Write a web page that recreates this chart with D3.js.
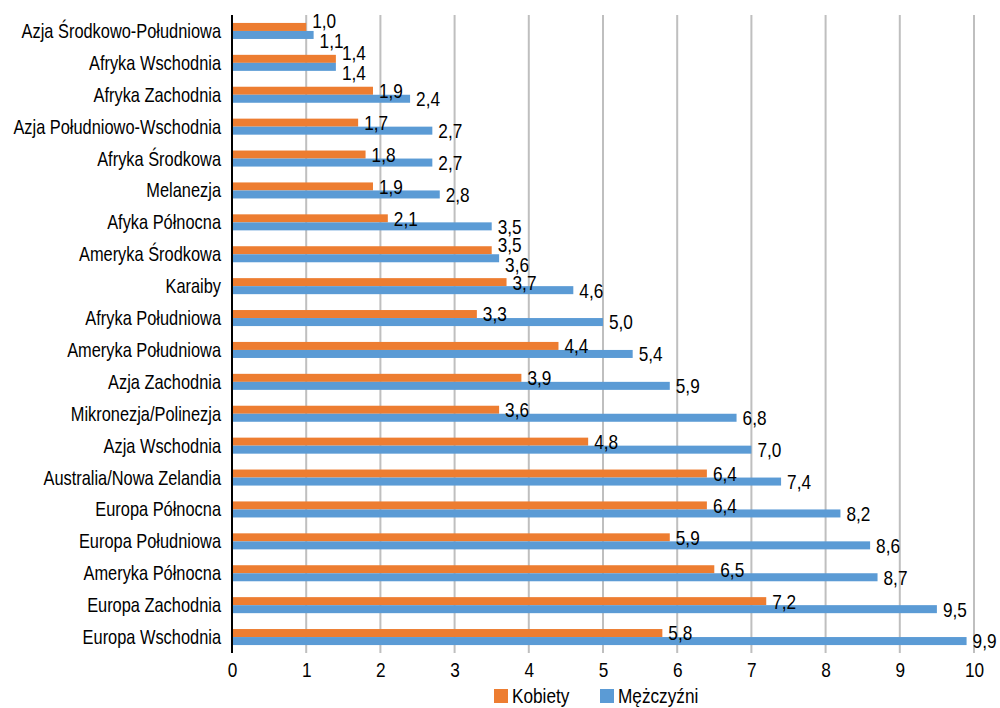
<!DOCTYPE html>
<html lang="pl">
  <head>
    <meta charset="UTF-8" />
    <title>Kobiety / Mężczyźni</title>
    <script src="https://d3js.org/d3.v7.min.js"></script>
    <style>
      body { margin: 0; background: #fff; }
      text { font-family: "Liberation Sans", Arial, sans-serif; fill: #000; }
      .grid line { stroke: #bfbfbf; stroke-width: 2px; }
    </style>
  </head>
  <body>
    <svg width="1000" height="708"></svg>
    <script>
      const width = 1000;
      const height = 708;
      const squeeze = 0.82; // wąski krój jak Arial Narrow

      // dane
      const regions = [
        "Azja Środkowo-Południowa", "Afryka Wschodnia", "Afryka Zachodnia",
        "Azja Południowo-Wschodnia", "Afryka Środkowa", "Melanezja",
        "Afyka Północna", "Ameryka Środkowa", "Karaiby", "Afryka Południowa",
        "Ameryka Południowa", "Azja Zachodnia", "Mikronezja/Polinezja",
        "Azja Wschodnia", "Australia/Nowa Zelandia", "Europa Północna",
        "Europa Południowa", "Ameryka Północna", "Europa Zachodnia",
        "Europa Wschodnia"
      ];
      const kobiety = [1.0, 1.4, 1.9, 1.7, 1.8, 1.9, 2.1, 3.5, 3.7, 3.3,
                       4.4, 3.9, 3.6, 4.8, 6.4, 6.4, 5.9, 6.5, 7.2, 5.8];
      const mezczyzni = [1.1, 1.4, 2.4, 2.7, 2.7, 2.8, 3.5, 3.6, 4.6, 5.0,
                         5.4, 5.9, 6.8, 7.0, 7.4, 8.2, 8.6, 8.7, 9.5, 9.9];
      const seriesNames = ["Kobiety", "Mężczyźni"];
      const colors = ["#ED7D31", "#5B9BD5"];
      const xTicks = [0, 1, 2, 3, 4, 5, 6, 7, 8, 9, 10];

      const rows = regions.map((r, i) => ({
        region: r,
        values: [kobiety[i], mezczyzni[i]]
      }));

      const svg = d3.select("svg");

      const x = d3.scaleLinear().domain([0, 10]).range([232, 974]);
      const y = d3.scaleBand().domain(regions).range([15, 653]);
      const ySub = d3.scaleBand().domain(seriesNames)
        .range([0, y.bandwidth()]).paddingOuter(0.99);

      const fmt = (v) => v.toFixed(1).replace(".", ",");
      const at = (px, py) => `translate(${px},${py}) scale(${squeeze},1)`;

      // siatka
      svg.append("g").attr("class", "grid")
        .selectAll("line").data(xTicks.slice(1)).join("line")
        .attr("x1", (d) => x(d)).attr("x2", (d) => x(d))
        .attr("y1", 15).attr("y2", 653);

      // słupki
      const grp = svg.append("g").selectAll("g").data(rows).join("g")
        .attr("transform", (d) => `translate(0,${y(d.region)})`);

      grp.selectAll("rect")
        .data((d) => d.values.map((v, i) => ({ v, s: seriesNames[i], i })))
        .join("rect")
        .attr("x", x(0))
        .attr("y", (d) => ySub(d.s))
        .attr("width", (d) => x(d.v) - x(0))
        .attr("height", ySub.bandwidth())
        .attr("fill", (d) => colors[d.i]);

      // etykiety wartości (rozsuwane, gdy wartości są bliskie)
      grp.each(function (row) {
        const close = Math.abs(row.values[0] - row.values[1]) < 0.45;
        d3.select(this).selectAll("text.val")
          .data(row.values.map((v, i) => ({ v, s: seriesNames[i], i })))
          .join("text")
          .attr("class", "val")
          .attr("transform", (d) => at(x(d.v) + 6,
            ySub(d.s) + ySub.bandwidth() / 2 +
            (close ? (d.i === 0 ? -6 : 6) : 0)))
          .attr("dy", "0.35em")
          .attr("font-size", 21)
          .text((d) => fmt(d.v));
      });

      // oś pionowa
      svg.append("line")
        .attr("x1", x(0)).attr("x2", x(0))
        .attr("y1", 15).attr("y2", 653)
        .attr("stroke", "#000").attr("stroke-width", 2);

      // kategorie
      svg.append("g").selectAll("text").data(regions).join("text")
        .attr("transform", (d) => at(221, y(d) + y.bandwidth() / 2))
        .attr("dy", "0.35em")
        .attr("text-anchor", "end")
        .attr("font-size", 20)
        .text((d) => d);

      // oś X
      const xAxis = svg.append("g")
        .attr("transform", "translate(0,653)")
        .call(d3.axisBottom(x).tickValues(xTicks).tickSize(0).tickPadding(9)
          .tickFormat(d3.format("d")));
      xAxis.select(".domain").remove();
      xAxis.selectAll("text")
        .attr("font-size", 21).attr("font-family", null)
        .attr("transform", `scale(${squeeze},1)`);

      // legenda
      const legend = svg.append("g").selectAll("g").data(seriesNames).join("g")
        .attr("transform", (d, i) => `translate(${[494, 600][i]},689)`);
      legend.append("rect").attr("width", 14).attr("height", 14)
        .attr("fill", (d, i) => colors[i]);
      legend.append("text")
        .attr("transform", at(18, 7))
        .attr("dy", "0.35em")
        .attr("font-size", 21).text((d) => d);
    </script>
  </body>
</html>
